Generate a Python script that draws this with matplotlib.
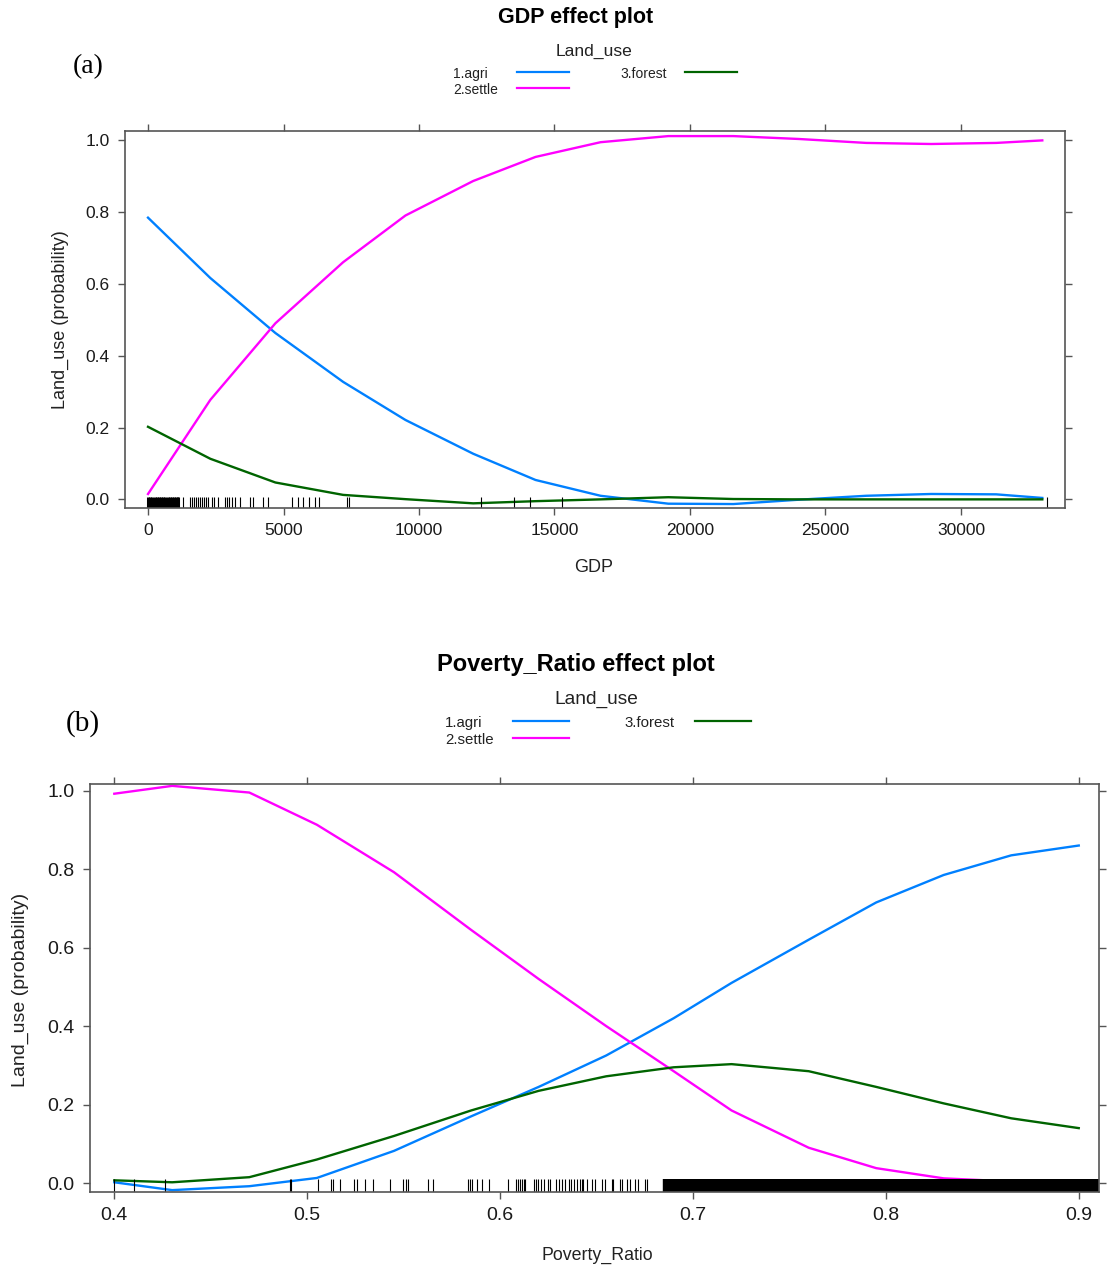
import matplotlib
matplotlib.use("Agg")
import matplotlib.pyplot as plt
import matplotlib.transforms as mtransforms
from matplotlib.lines import Line2D

plt.rcParams['font.family'] = ['Liberation Sans', 'DejaVu Sans']

# Predicted probabilities along GDP
gdp = [0, 2300, 4700, 7200, 9500, 12000, 14300, 16700, 19200, 21600,
       24000, 26500, 28900, 31300, 33000]
gdp_agri = [0.784, 0.616, 0.463, 0.327, 0.221, 0.127, 0.054, 0.010, -0.012,
            -0.013, -0.001, 0.010, 0.015, 0.014, 0.004]
gdp_settle = [0.015, 0.277, 0.490, 0.660, 0.790, 0.886, 0.953, 0.994, 1.011,
              1.011, 1.003, 0.992, 0.989, 0.992, 0.999]
gdp_forest = [0.202, 0.113, 0.047, 0.0125, 0.0006, -0.011, -0.005, 0.0, 0.006,
              0.001, 0.0, 0.0, 0.0, 0.0, 0.0]

# Observed GDP values (rug)
gdp_rug_dense = [0, 80, 160, 240, 320, 400, 480, 560, 640, 720, 800, 880,
                 960, 1040, 1100]
gdp_rug = [1107, 1292, 1550, 1624, 1697, 1771, 1845, 1919, 1993, 2066, 2140,
           2214, 2350, 2447, 2594, 2841, 2914, 2988, 3088, 3210, 3395, 3764,
           3886, 4255, 4440, 5302, 5548, 5709, 5953, 6162, 6322, 7332, 7429,
           12277, 13505, 14096, 15288, 33173]

# Predicted probabilities along Poverty_Ratio
pov = [0.40, 0.43, 0.47, 0.505, 0.545, 0.585, 0.62, 0.655, 0.69, 0.72,
       0.76, 0.795, 0.83, 0.865, 0.90]
pov_agri = [0.002, -0.018, -0.008, 0.013, 0.082, 0.170, 0.245, 0.325, 0.420,
            0.510, 0.620, 0.715, 0.785, 0.835, 0.860]
pov_settle = [0.992, 1.012, 0.995, 0.913, 0.792, 0.645, 0.520, 0.400, 0.285,
              0.185, 0.090, 0.038, 0.012, 0.004, 0.002]
pov_forest = [0.007, 0.002, 0.015, 0.060, 0.120, 0.185, 0.235, 0.272, 0.295,
              0.303, 0.285, 0.245, 0.203, 0.165, 0.140]

# Observed Poverty_Ratio values (rug)
pov_rug = [0.4000, 0.4104, 0.4263, 0.4910, 0.4914, 0.5058, 0.5122, 0.5135,
           0.5170, 0.5244, 0.5257, 0.5300, 0.5340, 0.5429, 0.5498, 0.5511,
           0.5524, 0.5628, 0.5651, 0.5835, 0.5844, 0.5853, 0.5879, 0.5905,
           0.5942, 0.6039, 0.6082, 0.6092, 0.6103, 0.6113, 0.6123, 0.6129,
           0.6177, 0.6187, 0.6197, 0.6213, 0.6230, 0.6246, 0.6259, 0.6290,
           0.6305, 0.6320, 0.6338, 0.6355, 0.6370, 0.6385, 0.6400, 0.6413,
           0.6423, 0.6432, 0.6452, 0.6475, 0.6492, 0.6527, 0.6544, 0.6578,
           0.6587, 0.6622, 0.6630, 0.6656, 0.6673, 0.6699, 0.6716, 0.6751,
           0.6760]
pov_rug_dense = [0.687, 0.692, 0.697, 0.702, 0.707, 0.712, 0.717, 0.722,
                 0.727, 0.732, 0.737, 0.742, 0.747, 0.752, 0.757, 0.762,
                 0.767, 0.772, 0.777, 0.782, 0.787, 0.792, 0.797, 0.802,
                 0.807, 0.812, 0.817, 0.822, 0.827, 0.832, 0.837, 0.842,
                 0.847, 0.852, 0.857, 0.862, 0.867, 0.872, 0.877, 0.882,
                 0.887, 0.892, 0.897, 0.902, 0.907, 0.911]

categories = ['1.agri', '2.settle', '3.forest']
colors = ['#0080ff', '#ff00ff', '#006400']
yticks = [0.0, 0.2, 0.4, 0.6, 0.8, 1.0]
yticklabels = ['0.0', '0.2', '0.4', '0.6', '0.8', '1.0']

W, H = 1108, 1265
fig = plt.figure(figsize=(W / 100, H / 100), dpi=100)


def fx(px):
    return px / W


def fy(py):
    return 1 - py / H


def style_axes(ax, fs):
    for s in ax.spines.values():
        s.set_color('#555555')
        s.set_linewidth(1.2)
    ax.tick_params(direction='out', length=5, width=1.0, color='#555555',
                   top=True, right=True, labeltop=False, labelright=False,
                   labelsize=fs, labelcolor='#1a1a1a', pad=6)
    ax.set_yticks(yticks)
    ax.set_yticklabels(yticklabels)


def rug(ax, vals, lw, h):
    trans = mtransforms.blended_transform_factory(ax.transData, ax.transAxes)
    ax.vlines(vals, 0, h, transform=trans, color='black', lw=lw)


def legend(title_xy, title_fs, item_fs, rows):
    fig.text(fx(title_xy[0]), fy(title_xy[1]), 'Land_use', ha='center',
             va='center', fontsize=title_fs, color='#222222')
    for label, col, tx, ty, lx0, lx1 in rows:
        fig.text(fx(tx), fy(ty), label, ha='left', va='center',
                 fontsize=item_fs, color='#222222')
        fig.add_artist(Line2D([fx(lx0), fx(lx1)], [fy(ty - 2), fy(ty - 2)],
                              transform=fig.transFigure, color=col, lw=1.6))


# (a) GDP effect plot
ax1 = fig.add_axes([fx(125), fy(508), fx(1065) - fx(125), fy(130.7) - fy(508)])
for vals, col in zip([gdp_agri, gdp_settle, gdp_forest], colors):
    ax1.plot(gdp, vals, color=col, lw=1.7)
rug(ax1, gdp_rug_dense, 2.2, 0.029)
rug(ax1, gdp_rug, 0.8, 0.029)
ax1.set_xlim(-849, 33838)
ax1.set_ylim(-0.024, 1.026)
ax1.set_xticks([0, 5000, 10000, 15000, 20000, 25000, 30000])
style_axes(ax1, 12.5)

fig.text(fx(576), fy(18), 'GDP effect plot', ha='center', va='center',
         fontsize=15.5, fontweight='bold')
fig.text(fx(594), fy(567), 'GDP', ha='center', va='center', fontsize=13,
         color='#222222')
fig.text(fx(60), fy(320), 'Land_use (probability)', ha='center', va='center',
         rotation=90, fontsize=13, color='#222222')
fig.text(fx(88), fy(67), '(a)', ha='center', va='center', fontsize=20,
         family='Liberation Serif')
legend((594, 51), 12.6, 10,
       [(categories[0], colors[0], 453, 74, 517, 569),
        (categories[1], colors[1], 453, 90, 517, 569),
        (categories[2], colors[2], 620, 74, 685, 737)])

# (b) Poverty_Ratio effect plot
ax2 = fig.add_axes([fx(90), fy(1191.7), fx(1099) - fx(90), fy(784.3) - fy(1191.7)])
for vals, col in zip([pov_agri, pov_settle, pov_forest], colors):
    ax2.plot(pov, vals, color=col, lw=1.7)
rug(ax2, pov_rug_dense, 7.5, 0.032)
rug(ax2, pov_rug, 0.8, 0.032)
ax2.set_xlim(0.3874, 0.9105)
ax2.set_ylim(-0.022, 1.016)
ax2.set_xticks([0.4, 0.5, 0.6, 0.7, 0.8, 0.9])
ax2.set_xticklabels(['0.4', '0.5', '0.6', '0.7', '0.8', '0.9'])
style_axes(ax2, 14)

fig.text(fx(576), fy(664), 'Poverty_Ratio effect plot', ha='center',
         va='center', fontsize=17, fontweight='bold')
fig.text(fx(597), fy(1255), 'Poverty_Ratio', ha='center', va='center',
         fontsize=12.8, color='#222222')
fig.text(fx(20), fy(990), 'Land_use (probability)', ha='center', va='center',
         rotation=90, fontsize=14, color='#222222')
fig.text(fx(83), fy(724), '(b)', ha='center', va='center', fontsize=21,
         family='Liberation Serif')
legend((596, 699), 13.8, 10.8,
       [(categories[0], colors[0], 445, 723, 513, 569),
        (categories[1], colors[1], 445, 740, 513, 569),
        (categories[2], colors[2], 624, 723, 695, 751)])

fig.savefig('out.png', dpi=100)
